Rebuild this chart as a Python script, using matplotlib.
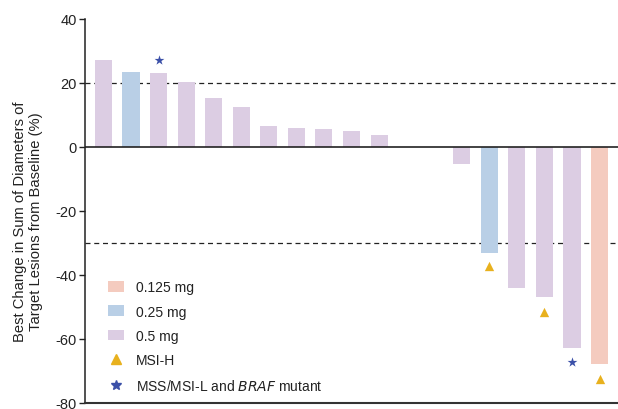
import matplotlib
matplotlib.use("Agg")
import matplotlib.pyplot as plt
from matplotlib.patches import Patch
from matplotlib.lines import Line2D

plt.rcParams['font.family'] = ['Liberation Sans', 'DejaVu Sans']

# Data
positions = [0, 1, 2, 3, 4, 5, 6, 7, 8, 9, 10, 13, 14, 15, 16, 17, 18]
values = [27.2, 23.4, 23.1, 20.3, 15.3, 12.5, 6.6, 5.9, 5.6, 5.0, 3.75,
          -5.3, -33.1, -44.1, -46.9, -62.8, -67.8]
doses = ['0.5', '0.25', '0.5', '0.5', '0.5', '0.5', '0.5', '0.5', '0.5', '0.5', '0.5',
         '0.5', '0.25', '0.5', '0.5', '0.5', '0.125']
msih_pos = [14, 16, 18]
msih_y = [-37.2, -51.5, -72.5]
braf_pos = [2, 17]
braf_y = [27.2, -67.1]
thresholds = [20, -30]
yticks = [40, 20, 0, -20, -40, -60, -80]

dose_colors = {'0.125': '#f4cbbf', '0.25': '#b9cfe6', '0.5': '#dccde3'}
tri_color = '#e8b11e'
star_color = '#3b50a8'

fig = plt.figure(figsize=(6.18, 4.10), dpi=100)
ax = fig.add_axes([85/618, 1-404/410, 1-85/618, 384/410])

ax.bar(positions, values, width=0.62, color=[dose_colors[d] for d in doses], zorder=2)
ax.scatter(msih_pos, msih_y, marker='^', s=45, color=tri_color, zorder=3, linewidths=0)
ax.scatter(braf_pos, braf_y, marker='*', s=55, color=star_color, zorder=3, linewidths=0)

for t in thresholds:
    ax.axhline(t, color='#222222', lw=0.9, ls=(0, (4, 3)), zorder=1)
ax.axhline(0, color='#222222', lw=1.2, zorder=3)

ax.set_xlim(-0.67, 18.67)
ax.set_ylim(-80, 40)
ax.set_yticks(yticks)
ax.set_yticklabels([str(v) for v in yticks], fontsize=10.5, color='#222222')
ax.set_xticks([])
ax.tick_params(axis='y', length=4, width=1, color='#222222', pad=2)
for s in ['top', 'right']:
    ax.spines[s].set_visible(False)
ax.spines['left'].set_color('#222222')
ax.spines['bottom'].set_color('#333333')
ax.spines['left'].set_linewidth(1.1)
ax.spines['bottom'].set_linewidth(1.5)

ax.set_ylabel('Best Change in Sum of Diameters of\nTarget Lesions from Baseline (%)',
              fontsize=10.6, color='#222222')
ax.yaxis.set_label_coords(-0.078, 0.475)

handles = [
    Patch(facecolor=dose_colors['0.125'], edgecolor='none', label='0.125 mg'),
    Patch(facecolor=dose_colors['0.25'], edgecolor='none', label='0.25 mg'),
    Patch(facecolor=dose_colors['0.5'], edgecolor='none', label='0.5 mg'),
    Line2D([], [], marker='^', color=tri_color, ls='none', markersize=7, label='MSI-H'),
    Line2D([], [], marker='*', color=star_color, ls='none', markersize=7,
           label='MSS/MSI-L and $\\it{BRAF}$ mutant'),
]
leg = ax.legend(handles=handles, loc='lower left', bbox_to_anchor=(0.02, -0.006),
                frameon=False, fontsize=10, handlelength=1.15, handleheight=0.8,
                handletextpad=0.85, labelspacing=0.75)
for t in leg.get_texts():
    t.set_color('#222222')

fig.savefig('out.png', dpi=100)
